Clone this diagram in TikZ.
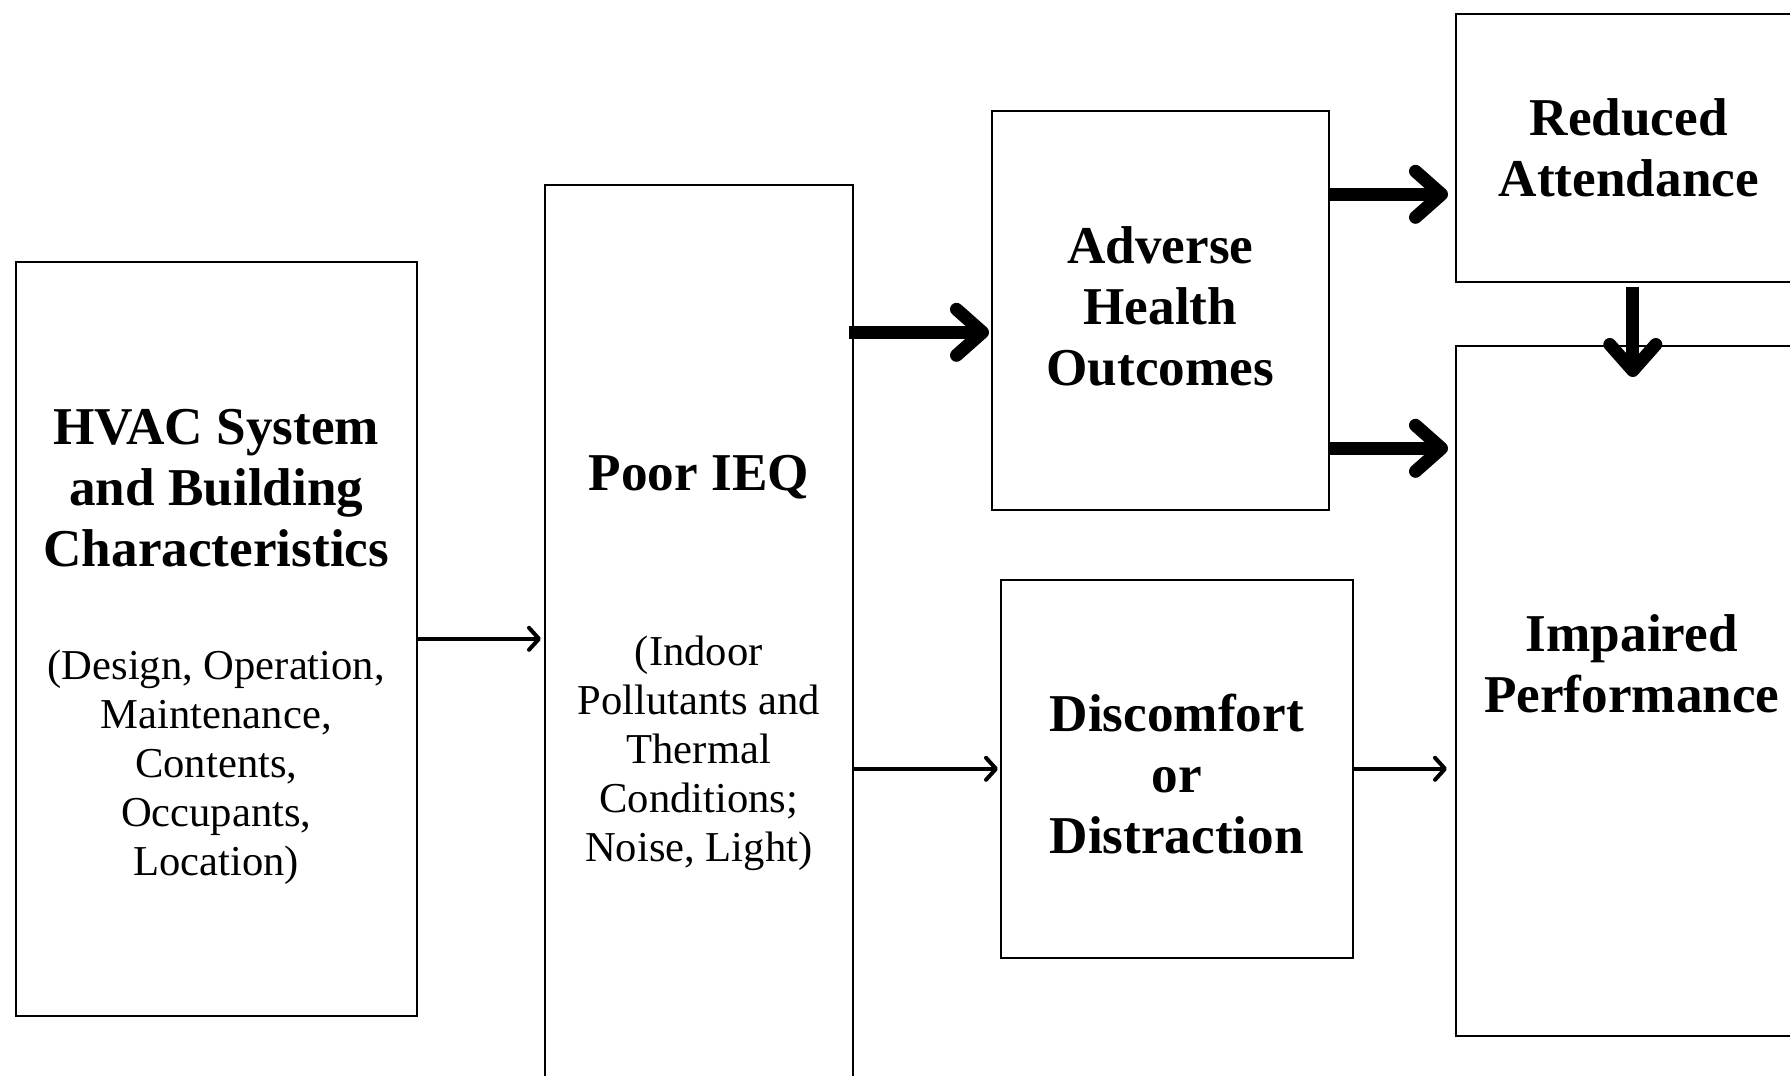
\documentclass[tikz,border=0pt]{standalone}
\usepackage{fontspec}
\setmainfont{Liberation Serif}
\usepackage{tikz}
\usetikzlibrary{arrows.meta}
\newcommand{\boxhead}{\fontsize{26.6}{30.5}\selectfont\bfseries\spaceskip=\fontdimen2\font\xspaceskip=\fontdimen2\font}
\newcommand{\boxtext}{\fontsize{21.3}{24.5}\selectfont\spaceskip=\fontdimen2\font\xspaceskip=\fontdimen2\font}
\tikzset{box/.style={draw,line width=0.8pt,anchor=north west,inner sep=0pt},
box text/.style={align=flush center,inner sep=0pt,text width=#1},
small arrow/.style={-{Straight Barb[length=5pt,width=11pt,round]},line width=2pt},
big arrow/.style={-{Straight Barb[length=13pt,width=23pt,round]},line width=6.5pt},}
\begin{document}
\begin{tikzpicture}[x=0.5pt,y=-0.5pt]
	\useasboundingbox (0,0) rectangle (1790,1076);
	\clip (0,0) rectangle (1790,1076);
	\node[box,minimum width=200.5pt,minimum height=377pt] (hvac) at (15,261) {};
	\node[box,minimum width=154pt,minimum height=475pt] (ieq) at (544,184) {};
	\node[box,minimum width=168.5pt,minimum height=199.5pt] (health) at (991,110) {};
	\node[box,minimum width=176pt,minimum height=189pt] (distract) at (1000,579) {};
	\node[box,minimum width=173pt,minimum height=134pt] (attend) at (1455,13) {};
	\node[box,minimum width=173pt,minimum height=345pt] (perform) at (1455,345) {};

	\node[box text=195pt,yshift=-4.1pt] (hvac text) at (hvac.center)
	  {{\boxhead HVAC System\\and Building\\Characteristics\par}\vspace{32pt}
	   {\boxtext (Design, Operation,\\Maintenance,\\Contents,\\Occupants,\\Location)\par}};
	\node[box text=150pt,yshift=-1.6pt] (ieq text) at (ieq.center)
	  {{\boxhead Poor IEQ\par}\vspace{63pt}
	   {\boxtext (Indoor\\Pollutants and\\Thermal\\Conditions;\\Noise, Light)\par}};
	\node[box text=165pt,yshift=1.75pt] (health text) at (health.center) {\boxhead Adverse\\Health\\Outcomes\par};
	\node[box text=170pt,yshift=-2.5pt] (distract text) at (distract.center) {\boxhead Discomfort\\or\\Distraction\par};
	\node[box text=170pt] (attend text) at (attend.center) {\boxhead Reduced\\Attendance\par};
	\node[box text=170pt,yshift=13.75pt,xshift=1.5pt] (perform text) at (perform.center) {\boxhead Impaired\\Performance\par};

	\coordinate (h0) at ([yshift=-11pt]health.west);
	\coordinate (h1) at ([yshift=58pt]health.east);
	\coordinate (h2) at ([yshift=-69pt]health.east);
	\coordinate (a0) at ([xshift=2pt,yshift=-2pt]attend.south);
	\coordinate (p0) at ([xshift=2pt,yshift=-16pt]perform.north);

	\path
	(hvac.east) edge [small arrow,shorten >=1.5pt] (hvac.east -| ieq.west)
	([xshift=-2.5pt]h0 -| ieq.east) edge [big arrow,shorten >=1pt] (h0)
	(distract.west -| ieq.east) edge [small arrow,shorten >=1pt] (distract.west)
	(h1) edge [big arrow,shorten >=3.5pt] (h1 -| attend.west)
	(h2) edge [big arrow,shorten >=3.5pt] (h2 -| perform.west)
	(distract.east) edge [small arrow,shorten >=4pt] (distract.east -| perform.west)
	(a0) edge [big arrow] (p0);
\end{tikzpicture}
\end{document}
